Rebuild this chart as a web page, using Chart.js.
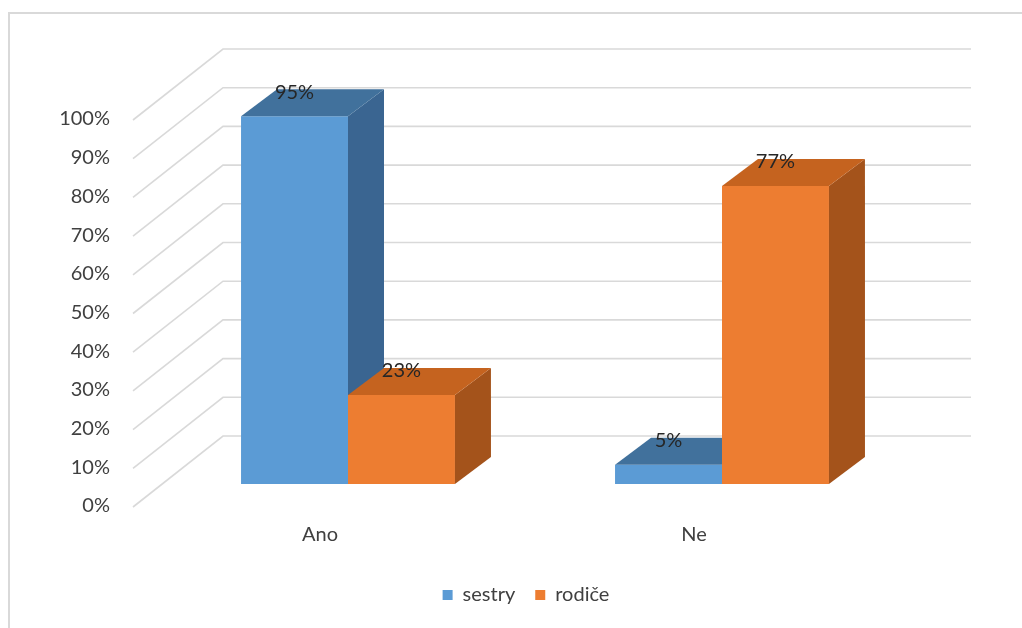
<!DOCTYPE html>
<html>
<head>
<meta charset="utf-8">
<script src="https://cdn.jsdelivr.net/npm/chart.js@4.4.1/dist/chart.umd.min.js"></script>
<style>
  html, body { margin: 0; padding: 0; background: #ffffff; }
  canvas { display: block; }
</style>
</head>
<body>
<canvas id="chart" width="1022" height="628"></canvas>
<script>
// Answers (categories) and the two groups asked
const categories = ['Ano', 'Ne'];
const seriesNames = ['sestry', 'rodiče'];
const sestryValues = [95, 5];
const rodiceValues = [23, 77];
const yTickLabels = ['0%', '10%', '20%', '30%', '40%', '50%', '60%', '70%', '80%', '90%', '100%'];

// Face colours: front, top, side
const frontColors = ['#5b9bd5', '#ed7d31'];
const topColors = ['#41719c', '#c5631f'];
const sideColors = ['#3a6591', '#a4531b'];

const FONT = 'Lato, "Open Sans", sans-serif';
const TEXT = '#404040';

// Oblique projection of the floor/walls relative to the bar plane
const FRONT = { x: -28, y: 23 };   // front edge of the floor
const BACK = { x: 62, y: -48 };    // back wall
const BAR_DEPTH = { x: 36, y: -27 }; // depth of every bar

const poly = (ctx, pts, color) => {
  ctx.beginPath();
  ctx.moveTo(pts[0][0], pts[0][1]);
  for (let i = 1; i < pts.length; i++) ctx.lineTo(pts[i][0], pts[i][1]);
  ctx.closePath();
  ctx.fillStyle = color;
  ctx.fill();
};

const frame = {
  id: 'frame',
  beforeDraw(chart) {
    const ctx = chart.ctx;
    ctx.save();
    ctx.fillStyle = '#ffffff';
    ctx.fillRect(0, 0, chart.width, chart.height);
    ctx.strokeStyle = '#d9d9d9';
    ctx.lineWidth = 2;
    ctx.beginPath();
    ctx.moveTo(9, chart.height);
    ctx.lineTo(9, 13);
    ctx.lineTo(chart.width, 13);
    ctx.stroke();
    ctx.restore();
  }
};

const bars3d = {
  id: 'bars3d',
  beforeDatasetsDraw(chart) {
    const ctx = chart.ctx;
    const y = chart.scales.y;
    const area = chart.chartArea;
    ctx.save();
    // walls: diagonal floor-to-wall lines and horizontal lines on the back wall
    ctx.strokeStyle = '#d9d9d9';
    ctx.lineWidth = 1.6;
    y.ticks.forEach(t => {
      const py = y.getPixelForValue(t.value);
      ctx.beginPath();
      ctx.moveTo(area.left + FRONT.x, py + FRONT.y);
      ctx.lineTo(area.left + BACK.x, py + BACK.y);
      ctx.lineTo(area.right + BACK.x, py + BACK.y);
      ctx.stroke();
    });
    // bars, left to right, so nearer faces cover farther ones
    const metas = chart.data.datasets.map((d, i) => chart.getDatasetMeta(i));
    categories.forEach((c, ci) => {
      metas.forEach((meta, di) => {
        const bar = meta.data[ci];
        if (!bar) return;
        const p = bar.getProps(['x', 'y', 'base', 'width'], true);
        const l = p.x - p.width / 2, r = p.x + p.width / 2;
        const top = Math.min(p.y, p.base), bot = Math.max(p.y, p.base);
        const dx = BAR_DEPTH.x, dy = BAR_DEPTH.y;
        bar.draw(ctx, area);
        poly(ctx, [[r, top], [r + dx, top + dy], [r + dx, bot + dy], [r, bot]], sideColors[di]);
        poly(ctx, [[l, top], [l + dx, top + dy], [r + dx, top + dy], [r, top]], topColors[di]);
      });
    });
    ctx.restore();
    return false;
  },
  afterDraw(chart) {
    const ctx = chart.ctx;
    ctx.save();
    ctx.font = '20px ' + FONT;
    ctx.fillStyle = '#262626';
    ctx.textAlign = 'center';
    ctx.textBaseline = 'middle';
    chart.data.datasets.forEach((ds, di) => {
      const meta = chart.getDatasetMeta(di);
      meta.data.forEach((bar, i) => {
        const p = bar.getProps(['x', 'y'], true);
        ctx.fillText(ds.data[i] + '%', p.x, p.y - 24);
      });
    });
    ctx.restore();
  }
};

new Chart(document.getElementById('chart'), {
  type: 'bar',
  data: {
    labels: categories,
    datasets: [
      { label: seriesNames[0], data: sestryValues, backgroundColor: frontColors[0], borderWidth: 0 },
      { label: seriesNames[1], data: rodiceValues, backgroundColor: frontColors[1], borderWidth: 0 }
    ]
  },
  options: {
    responsive: false,
    animation: false,
    events: [],
    categoryPercentage: 0.572,
    barPercentage: 1.0,
    layout: { padding: { top: 97, left: 30, right: 0, bottom: 13 } },
    plugins: {
      tooltip: { enabled: false },
      legend: {
        position: 'bottom',
        labels: {
          boxWidth: 10,
          boxHeight: 10,
          padding: 20,
          color: TEXT,
          font: { family: FONT, size: 20 }
        }
      }
    },
    scales: {
      x: {
        grid: { display: false, drawTicks: false },
        border: { display: false },
        ticks: {
          padding: 39,
          labelOffset: -28,
          color: TEXT,
          font: { family: FONT, size: 20 }
        },
        afterFit(s) { s.height = 81; }
      },
      y: {
        min: 0,
        max: 100,
        grid: { display: false, drawTicks: false },
        border: { display: false },
        ticks: {
          stepSize: 10,
          padding: 51,
          labelOffset: 22,
          color: TEXT,
          font: { family: FONT, size: 20 },
          callback: (v, i) => yTickLabels[i]
        },
        afterFit(s) { s.width = 131; }
      },
      y2: {
        position: 'right',
        display: true,
        grid: { display: false, drawTicks: false },
        border: { display: false },
        ticks: { display: false },
        afterFit(s) { s.width = 113; }
      }
    }
  },
  plugins: [frame, bars3d]
});
</script>
</body>
</html>
